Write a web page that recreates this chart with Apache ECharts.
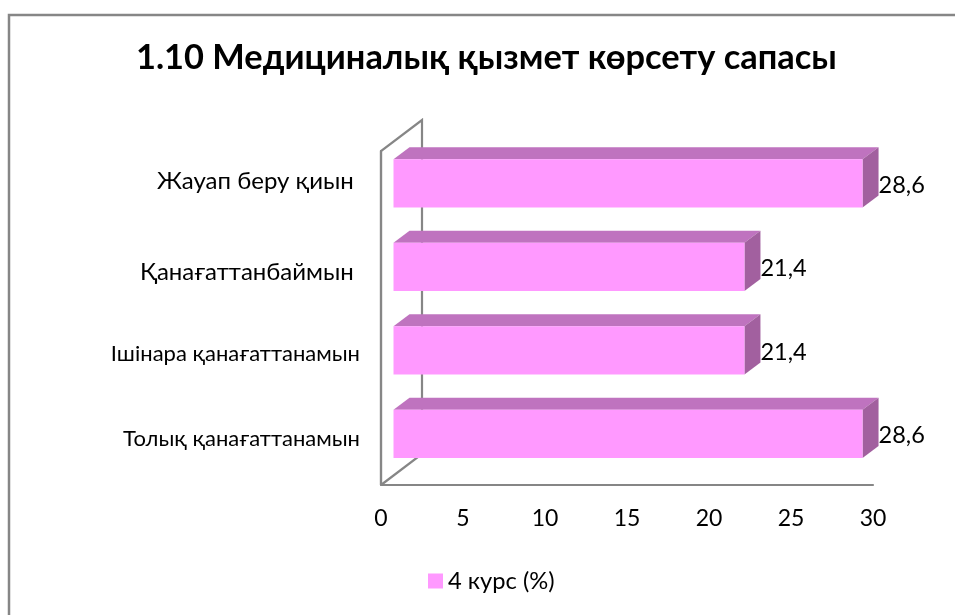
<!DOCTYPE html>
<html><head><meta charset="utf-8">
<style>html,body{margin:0;padding:0;background:#fff}#c{width:955px;height:615px}</style>
<script src="https://cdn.jsdelivr.net/npm/echarts@6/dist/echarts.min.js"></script>
</head><body><div id="c"></div>
<script>
const titleText = '1.10 Медициналық қызмет көрсету сапасы';
const seriesName = '4 курс (%)';
const categories = ['Толық қанағаттанамын', 'Ішінара қанағаттанамын', 'Қанағаттанбаймын ', 'Жауап беру қиын '];
const values = [28.6, 21.4, 21.4, 28.6];
const FONT = 'Lato, "Noto Sans", sans-serif';
const FRONT = '#FF99FF', TOP = '#BF73BF', SIDE = '#A2609F', LINE = '#868686', TEXT = '#000';

const chart = echarts.init(document.getElementById('c'), null, {renderer: 'canvas'});

function wall(params, api) {
  const band = api.size([0, 1])[1];
  const bottom = api.coord([0, 0])[1] + band / 2;
  const top = api.coord([0, categories.length - 1])[1] - band / 2;
  const left = api.coord([0, 0])[0];
  const dx = 41, dy = -31;
  return {
    type: 'polyline',
    silent: true,
    shape: {points: [[left, bottom], [left, top], [left + dx, top + dy], [left + dx, bottom + dy], [left, bottom]]},
    style: {stroke: LINE, lineWidth: 2.2, fill: null}
  };
}

function bar(params, api) {
  const cat = api.value(0), val = api.value(1);
  const band = api.size([0, 1])[1];
  const h = band * 0.577;
  const p0 = api.coord([0, cat]), p1 = api.coord([val, cat]);
  const ox = 12.5, oy = -9.4, dx = 16, dy = -12;
  const xa = p0[0] + ox, xb = p1[0] + ox;
  const yt = p0[1] + oy - h / 2, yb = p0[1] + oy + h / 2;
  return {
    type: 'group',
    children: [
      {type: 'polygon', shape: {points: [[xa, yt], [xa + dx, yt + dy], [xb + dx, yt + dy], [xb, yt]]}, style: {fill: TOP}},
      {type: 'polygon', shape: {points: [[xb, yt], [xb + dx, yt + dy], [xb + dx, yb + dy], [xb, yb]]}, style: {fill: SIDE}},
      {type: 'rect', shape: {x: xa, y: yt, width: xb - xa, height: yb - yt}, style: {fill: FRONT}},
      {type: 'text', style: {x: xb + dx, y: p0[1] + oy + 2, text: String(val).replace('.', ','),
        font: '23.5px ' + FONT, fill: TEXT, align: 'left', verticalAlign: 'middle'}}
    ]
  };
}

chart.setOption({
  animation: false,
  backgroundColor: '#fff',
  title: {
    text: titleText, left: 131, top: 36,
    textStyle: {fontFamily: FONT, fontSize: 34.4, fontWeight: 'bold', color: TEXT}
  },
  legend: {
    data: [seriesName], left: 423, top: 564, icon: 'rect', itemWidth: 15, itemHeight: 15, itemGap: 6,
    textStyle: {fontFamily: FONT, fontSize: 23.7, color: TEXT}
  },
  grid: {left: 381, right: 82, top: 151, bottom: 130},
  xAxis: {
    type: 'value', min: 0, max: 30, interval: 5,
    axisLine: {show: true, lineStyle: {color: LINE, width: 2.2}},
    axisTick: {show: false}, splitLine: {show: false},
    axisLabel: {fontFamily: FONT, fontSize: 23, color: TEXT, margin: 22}
  },
  yAxis: {
    type: 'category', data: categories,
    axisLine: {show: true, lineStyle: {color: LINE, width: 2.2}},
    axisTick: {show: false},
    axisLabel: {
      color: TEXT, margin: 21, interval: 0,
      formatter: (v, i) => '{c' + i + '|' + v + '}',
      rich: {
        c0: {fontFamily: FONT, fontSize: 22, padding: [0, 0, 8, 0]},
        c1: {fontFamily: FONT, fontSize: 22, padding: [0, 0, 12, 0]},
        c2: {fontFamily: FONT, fontSize: 24, padding: [0, 0, 8, 0]},
        c3: {fontFamily: FONT, fontSize: 24, padding: [0, 0, 22, 0]}
      }
    }
  },
  graphic: [
    {type: 'polyline', silent: true, shape: {points: [[9, 615], [9, 15], [955, 15]]}, style: {stroke: LINE, lineWidth: 2.5, fill: null}}
  ],
  series: [
    {type: 'custom', name: 'wall', renderItem: wall, data: [[0, 0]], silent: true, z: 1, encode: {x: 0, y: 1}},
    {type: 'custom', name: seriesName, renderItem: bar, itemStyle: {color: FRONT}, z: 2,
     encode: {x: 1, y: 0}, data: values.map((v, i) => [i, v])}
  ]
});
</script></body></html>
